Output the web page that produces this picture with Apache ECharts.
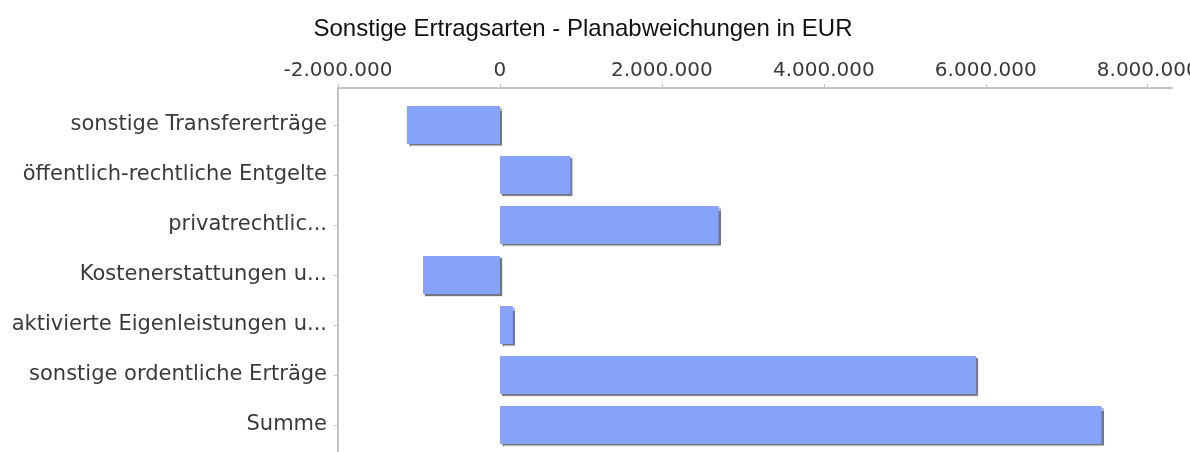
<!DOCTYPE html>
<html>
<head>
<meta charset="utf-8">
<script src="https://cdn.jsdelivr.net/npm/echarts@6/dist/echarts.min.js"></script>
<style>html,body{margin:0;padding:0;background:#fff}#c{width:1190px;height:452px}</style>
</head>
<body>
<div id="c"></div>
<script>
var titleText = 'Sonstige Ertragsarten - Planabweichungen in EUR';
var categories = ['sonstige Transfererträge','öffentlich-rechtliche Entgelte','privatrechtlic...','Kostenerstattungen u...','aktivierte Eigenleistungen u...','sonstige ordentliche Erträge','Summe'];
var values = [-1150000, 870000, 2700000, -950000, 160000, 5880000, 7430000];
var xMin = -2000000, xMax = 8300000, xStep = 2000000;

function fmt(v){
  var s = Math.abs(Math.round(v)).toString().replace(/\B(?=(\d{3})+(?!\d))/g,'.');
  return (v<0?'-':'')+s;
}
var chart = echarts.init(document.getElementById('c'));
var gridLeft = 338, gridTop = 100, gridRight = 18, gridBottom = 2, axisOffset = 12;
chart.setOption({
  animation:false,
  title:{text:titleText,left:578,top:12,textAlign:'center',textStyle:{fontFamily:'Liberation Sans',fontSize:24,fontWeight:'normal',color:'#111'}},
  grid:{left:gridLeft,top:gridTop,right:gridRight,bottom:gridBottom,containLabel:false,outerBoundsMode:'none'},
  xAxis:{type:'value',position:'top',offset:axisOffset,min:xMin,max:xMax,interval:xStep,
    axisLine:{show:true,onZero:false,lineStyle:{color:'#c4c4c4',width:2}},
    axisTick:{show:true,inside:false,length:4,lineStyle:{color:'#c4c4c4'}},
    splitLine:{show:false},
    axisLabel:{showMaxLabel:false,margin:7,formatter:fmt,fontFamily:'DejaVu Sans',fontSize:20,color:'#3a3a3a'}},
  yAxis:{type:'category',inverse:true,data:categories,position:'left',
    axisLine:{show:false,onZero:false},
    axisTick:{show:true,length:4,alignWithLabel:true,lineStyle:{color:'#c4c4c4'}},
    axisLabel:{margin:11,fontFamily:'DejaVu Sans',fontSize:21,color:'#3a3a3a'}},
  graphic:[{type:'line',shape:{x1:gridLeft,y1:gridTop-axisOffset,x2:gridLeft,y2:452},style:{stroke:'#c4c4c4',lineWidth:2}}],
  series:[{type:'bar',data:values,barWidth:38,
    itemStyle:{color:'#87a3f8',shadowColor:'rgba(70,70,90,0.75)',shadowOffsetX:2,shadowOffsetY:2,shadowBlur:1}}]
});
</script>
</body>
</html>
